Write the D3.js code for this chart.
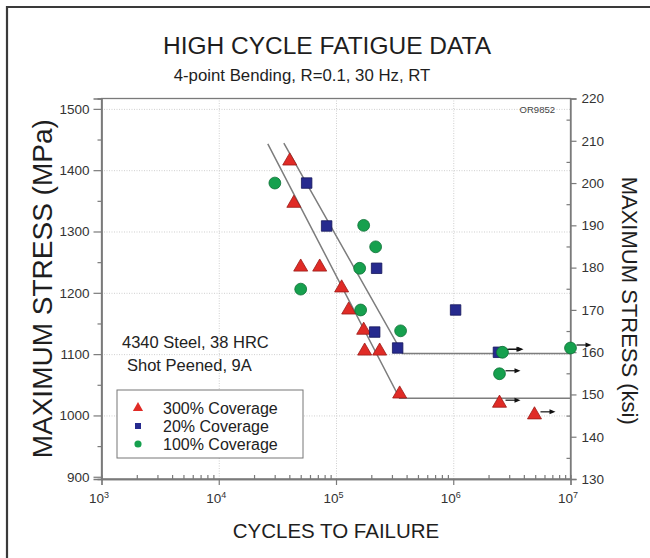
<!DOCTYPE html>
<html>
<head>
<meta charset="utf-8">
<script src="https://cdn.jsdelivr.net/npm/d3@7"></script>
<style>
  html, body { margin: 0; padding: 0; background: #fff; }
  svg { display: block; font-family: "Liberation Sans", Arial, sans-serif; }
</style>
</head>
<body>
<svg id="chart" width="650" height="558"></svg>
<script>
// ---------- DATA ----------
const cov300Cycles = [40300, 43700, 50000, 72600, 111700, 128300, 172200, 175600, 235700, 349000, 2480000, 4930000];
const cov300Stress = [1415, 1346, 1242, 1242, 1208, 1172, 1139, 1105, 1105, 1035, 1020, 1001];
const cov300Runout = [false, false, false, false, false, false, false, false, false, false, true, true];

const cov20Cycles = [56200, 83200, 222000, 213800, 335600, 1047000, 2430000];
const cov20Stress = [1379, 1309, 1240, 1136, 1110, 1172, 1103];
const cov20Runout = [false, false, false, false, false, false, true];

const cov100Cycles = [30100, 50000, 172200, 217800, 159200, 162300, 355600, 2630000, 2480000, 10000000];
const cov100Stress = [1379, 1206, 1310, 1275, 1240, 1172, 1138, 1103, 1068, 1110];
const cov100Runout = [false, false, false, false, false, false, false, true, true, true];

const fitLowerCycles = [26200, 349000, 10000000];
const fitLowerStress = [1443, 1028, 1028];
const fitUpperCycles = [35900, 370000, 10000000];
const fitUpperStress = [1444, 1101, 1101];

const xDecades = [1e3, 1e4, 1e5, 1e6, 1e7];
const xExponents = ["3", "4", "5", "6", "7"];
const mpaTicks = [900, 1000, 1100, 1200, 1300, 1400, 1500];
const ksiTicks = [130, 140, 150, 160, 170, 180, 190, 200, 210, 220];

const legendLabels = ["300% Coverage", "20% Coverage", "100% Coverage"];
const noteLines = ["4340 Steel, 38 HRC", "Shot Peened, 9A"];
const titleText = "HIGH CYCLE FATIGUE DATA";
const subtitleText = "4-point Bending, R=0.1, 30 Hz, RT";
const xTitle = "CYCLES TO FAILURE";
const yLeftTitle = "MAXIMUM STRESS (MPa)";
const yRightTitle = "MAXIMUM STRESS (ksi)";
const codeText = "OR9852";

// ---------- SETUP ----------
const KSI_TO_MPA = 6.895;
const svg = d3.select("#chart");
const L = 101.5, R = 570.5, T = 98.5, B = 479;
const x = d3.scaleLog().domain([1e3, 1e7]).range([L, R]);
const y = d3.scaleLinear().domain([130 * KSI_TO_MPA, 220 * KSI_TO_MPA]).range([B, T]);
const yK = d3.scaleLinear().domain([130, 220]).range([B, T]);

const RED = "#e02b26", RED_S = "#9a1a16";
const BLUE = "#262a8e", BLUE_S = "#15175a";
const GREEN = "#16a04e", GREEN_S = "#0d7035";
const AXIS = "#7a7a7a";
const TXT = "#333";

// outer frame
svg.append("path")
  .attr("d", "M7,560 L7,7 L652,7")
  .attr("fill", "none").attr("stroke", "#3a3a3a").attr("stroke-width", 2.2);

// ---------- GRID ----------
const gridG = svg.append("g");
gridG.append("g").attr("transform", `translate(0,${B})`)
  .call(d3.axisBottom(x).tickValues(xDecades.slice(1, 4)).tickSize(-(B - T)).tickFormat(""))
  .call(g => g.select(".domain").remove())
  .call(g => g.selectAll("line").attr("stroke", "#cfcfcf").attr("stroke-dasharray", "1,1.5"));
gridG.append("g").attr("transform", `translate(${L},0)`)
  .call(d3.axisLeft(y).tickValues(mpaTicks.slice(1)).tickSize(-(R - L)).tickFormat(""))
  .call(g => g.select(".domain").remove())
  .call(g => g.selectAll("line").attr("stroke", "#cfcfcf").attr("stroke-dasharray", "1,1.5"));

// plot box
svg.append("rect").attr("x", L).attr("y", T).attr("width", R - L).attr("height", B - T)
  .attr("fill", "none").attr("stroke", AXIS).attr("stroke-width", 1.3);

// ---------- AXES ----------
function styleAxis(g) {
  g.select(".domain").attr("stroke", AXIS).attr("stroke-width", 1.3);
  g.selectAll(".tick line").attr("stroke", AXIS).attr("stroke-width", 1.2);
  g.selectAll(".tick text").attr("fill", TXT).style("font-size", "13.5px")
    .style("font-family", '"Liberation Sans", Arial, sans-serif');
}

// left axis
const mpaMinor = d3.range(950, 1500, 100);
svg.append("g").attr("transform", `translate(${L},0)`)
  .call(d3.axisLeft(y).tickValues(mpaMinor).tickSize(4).tickFormat(""))
  .call(styleAxis);
svg.append("g").attr("transform", `translate(${L},0)`)
  .call(d3.axisLeft(y).tickValues(mpaTicks).tickSize(8).tickPadding(4).tickFormat(d3.format("d")))
  .call(styleAxis);

// right axis
const ksiMinor = d3.range(135, 220, 10);
svg.append("g").attr("transform", `translate(${R},0)`)
  .call(d3.axisLeft(yK).tickValues(ksiMinor).tickSize(4).tickFormat(""))
  .call(styleAxis)
  .call(g => g.select(".domain").remove());
svg.append("g").attr("transform", `translate(${R},0)`)
  .call(d3.axisRight(yK).tickValues(ksiTicks).tickSize(6).tickPadding(5).tickFormat(d3.format("d")))
  .call(styleAxis);

// bottom axis minor
const xMinor = [];
xDecades.slice(0, 4).forEach(d => { for (let k = 2; k <= 9; k++) xMinor.push(d * k); });
svg.append("g").attr("transform", `translate(0,${B})`)
  .call(d3.axisTop(x).tickValues(xMinor).tickSize(4).tickFormat(""))
  .call(styleAxis);
// bottom axis major
const xAx = svg.append("g").attr("transform", `translate(0,${B})`)
  .call(d3.axisBottom(x).tickValues(xDecades).tickSize(6).tickPadding(4).tickFormat(() => ""))
  .call(styleAxis);
xAx.selectAll(".tick text").each(function(d, i) {
  const t = d3.select(this);
  t.text(null).attr("dy", "1.05em").attr("dx", "-3");
  t.append("tspan").text("10");
  t.append("tspan").attr("dy", "-0.55em").style("font-size", "9px").text(xExponents[i]);
});

// ---------- TEXT ----------
svg.append("text").attr("x", 327).attr("y", 54).attr("text-anchor", "middle")
  .style("font-size", "24.5px").attr("fill", "#1e1e1e").text(titleText);
svg.append("text").attr("x", 302).attr("y", 81).attr("text-anchor", "middle")
  .style("font-size", "16.8px").attr("fill", "#1e1e1e").text(subtitleText);
svg.append("text").attr("x", 336).attr("y", 538).attr("text-anchor", "middle")
  .style("font-size", "20.5px").attr("fill", "#1e1e1e").text(xTitle);
svg.append("text").attr("transform", `translate(52,${(T + B) / 2}) rotate(-90)`).attr("text-anchor", "middle")
  .style("font-size", "28px").attr("fill", "#1e1e1e").text(yLeftTitle);
svg.append("text").attr("transform", `translate(622,${(T + B) / 2 + 12}) rotate(90)`).attr("text-anchor", "middle")
  .style("font-size", "22px").attr("fill", "#1e1e1e").text(yRightTitle);
svg.append("text").attr("x", 555).attr("y", 113).attr("text-anchor", "end")
  .style("font-size", "9.5px").attr("fill", "#444").text(codeText);

svg.selectAll("text.note").data(noteLines).enter().append("text")
  .attr("class", "note")
  .attr("x", (d, i) => i === 0 ? 122 : 127)
  .attr("y", (d, i) => 348 + i * 23)
  .style("font-size", "16.5px").attr("fill", "#222").text(d => d);

// ---------- FIT LINES ----------
const line = d3.line().x(d => x(d[0])).y(d => y(d[1]));
[[fitLowerCycles, fitLowerStress], [fitUpperCycles, fitUpperStress]].forEach(([c, s]) => {
  svg.append("path").datum(c.map((v, i) => [v, s[i]]))
    .attr("d", line).attr("fill", "none").attr("stroke", "#7d7d7d").attr("stroke-width", 1.5);
});

// ---------- MARKERS ----------
const triSym = d3.symbol().type(d3.symbolTriangle).size(85);
const sqSym = d3.symbol().type(d3.symbolSquare).size(110);
const cirSym = d3.symbol().type(d3.symbolCircle).size(110);

function drawArrows(cycles, stress, runout, offset) {
  const pts = cycles.map((c, i) => ({ c, s: stress[i], r: runout[i] })).filter(d => d.r);
  pts.forEach(d => {
    const x0 = x(d.c) + offset, yy = y(d.s) - 3;
    svg.append("line").attr("x1", x0).attr("x2", x0 + 10).attr("y1", yy).attr("y2", yy)
      .attr("stroke", "#111").attr("stroke-width", 1.2);
    svg.append("path").attr("d", `M${x0 + 15},${yy} L${x0 + 9},${yy - 2.5} L${x0 + 9},${yy + 2.5} Z`)
      .attr("fill", "#111");
  });
}

function drawSeries(cycles, stress, sym, fill, stroke) {
  svg.append("g").selectAll("path").data(cycles.map((c, i) => ({ c, s: stress[i] }))).enter()
    .append("path").attr("d", sym)
    .attr("transform", d => `translate(${x(d.c)},${y(d.s)})`)
    .attr("fill", fill).attr("stroke", stroke).attr("stroke-width", 0.8);
}

drawSeries(cov300Cycles, cov300Stress, triSym, RED, RED_S);
drawSeries(cov20Cycles, cov20Stress, sqSym, BLUE, BLUE_S);
drawSeries(cov100Cycles, cov100Stress, cirSym, GREEN, GREEN_S);
drawArrows(cov300Cycles, cov300Stress, cov300Runout, 6);
drawArrows(cov20Cycles, cov20Stress, cov20Runout, 9);
drawArrows(cov100Cycles, cov100Stress, cov100Runout, 6);

// ---------- LEGEND ----------
const lg = svg.append("g");
lg.append("rect").attr("x", 117).attr("y", 390).attr("width", 186).attr("height", 68)
  .attr("fill", "#fff").attr("stroke", "#777").attr("stroke-width", 1);
const legSyms = [d3.symbol().type(d3.symbolTriangle).size(45), d3.symbol().type(d3.symbolSquare).size(36), d3.symbol().type(d3.symbolCircle).size(40)];
const legFill = [RED, BLUE, GREEN];
legendLabels.forEach((lab, i) => {
  const yy = 408 + i * 18;
  lg.append("path").attr("d", legSyms[i]).attr("transform", `translate(138,${yy})`).attr("fill", legFill[i]);
  lg.append("text").attr("x", 163).attr("y", yy + 5.5).style("font-size", "16px").attr("fill", "#222").text(lab);
});
</script>
</body>
</html>
